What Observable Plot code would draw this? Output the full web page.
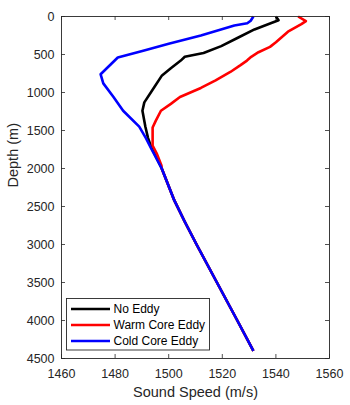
<!DOCTYPE html>
<html>
<head>
<meta charset="utf-8">
<script src="https://cdn.jsdelivr.net/npm/d3@7"></script>
<script src="https://cdn.jsdelivr.net/npm/@observablehq/plot@0.6"></script>
<style>
  html, body { margin: 0; padding: 0; background: #fff; }
  #wrap { position: relative; width: 350px; height: 405px; }
  #legend { position: absolute; left: 0; top: 0; pointer-events: none; }
</style>
</head>
<body>
<div id="wrap"></div>
<script>
// ---- data ----
const speedTicks = [1460, 1480, 1500, 1520, 1540, 1560];
const depthTicks = [0, 500, 1000, 1500, 2000, 2500, 3000, 3500, 4000, 4500];
const seriesNames = ["No Eddy", "Warm Core Eddy", "Cold Core Eddy"];
const seriesColors = ["#000000", "#ff0000", "#0000ff"];

const noEddyDepth = [0, 50, 85, 170, 280, 390, 480, 530, 580, 680, 775, 930, 1130, 1240, 1450, 1600, 1720];
const noEddySpeed = [1540.0, 1541.0, 1538.3, 1532.0, 1525.8, 1519.6, 1513.0, 1506.0, 1504.5, 1500.8, 1497.5, 1494.6, 1490.9, 1490.2, 1491.3, 1492.3, 1493.5];

const warmDepth = [0, 60, 100, 200, 340, 400, 470, 530, 580, 640, 730, 840, 940, 1060, 1150, 1240, 1370, 1460, 1700, 1800, 1960];
const warmSpeed = [1548.3, 1551.2, 1549.5, 1544.5, 1540.0, 1537.8, 1533.5, 1530.8, 1529.2, 1526.8, 1523.0, 1517.5, 1512.0, 1504.2, 1500.8, 1497.1, 1495.2, 1494.0, 1494.0, 1495.5, 1497.3];

const coldDepth = [0, 55, 90, 118, 250, 360, 450, 540, 760, 880, 1060, 1240, 1450, 1600, 1740];
const coldSpeed = [1531.6, 1530.6, 1529.3, 1524.5, 1512.0, 1500.0, 1490.5, 1481.0, 1474.6, 1475.6, 1479.4, 1483.0, 1489.0, 1491.5, 1493.5];

const deepDepth = [2000, 2420, 2700, 3000, 3500, 4000, 4400];
const deepSpeed = [1497.4, 1502.1, 1506.0, 1510.4, 1518.0, 1525.6, 1531.6];

const xLabel = "Sound Speed (m/s)";
const yLabel = "Depth (m)";

// ---- build rows ----
function rows(depths, speeds) {
  const d = depths.concat(deepDepth), s = speeds.concat(deepSpeed);
  return d.map((v, i) => ({depth: v, speed: s[i]}));
}
const seriesRows = [
  rows(noEddyDepth, noEddySpeed),
  rows(warmDepth, warmSpeed),
  rows(coldDepth, coldSpeed)
];

const W = 350, H = 405;
const mL = 61, mR = 21, mT = 16, mB = 47;
const pw = W - mL - mR, ph = H - mT - mB;
const axisColor = "#262626";
const font = "'Liberation Sans', Arial, Helvetica, sans-serif";

const chart = Plot.plot({
  width: W, height: H,
  marginLeft: mL, marginRight: mR, marginTop: mT, marginBottom: mB,
  style: {fontFamily: font, fontSize: "12.5px", color: axisColor, background: "#fff", overflow: "visible"},
  x: {domain: [1460, 1560]},
  y: {domain: [0, 4500], reverse: true},
  marks: [
    Plot.axisX({ticks: speedTicks, tickSize: 0, tickPadding: 11, label: null, tickFormat: d => String(d), fontSize: 12.5}),
    Plot.axisY({ticks: depthTicks, tickSize: 0, tickPadding: 7, label: null, tickFormat: d => String(d), fontSize: 12.5}),
    Plot.ruleX(speedTicks, {insetTop: ph - 4, stroke: axisColor, strokeWidth: 0.8}),
    Plot.ruleX(speedTicks, {insetBottom: ph - 4, stroke: axisColor, strokeWidth: 0.8}),
    Plot.ruleY(depthTicks, {insetRight: pw - 4, stroke: axisColor, strokeWidth: 0.8}),
    Plot.ruleY(depthTicks, {insetLeft: pw - 4, stroke: axisColor, strokeWidth: 0.8}),
    ...seriesRows.map((r, i) => Plot.line(r, {
      x: "speed", y: "depth", stroke: seriesColors[i], strokeWidth: 2.6,
      strokeLinejoin: "round", strokeLinecap: "butt", curve: "linear"
    })),
    Plot.frame({stroke: axisColor, strokeWidth: 0.9}),
    Plot.text([xLabel], {frameAnchor: "bottom", dy: 38, fontSize: 14.5, fill: axisColor, text: d => d}),
    Plot.text([yLabel], {frameAnchor: "left", dx: -48, rotate: -90, fontSize: 14.5, fill: axisColor, text: d => d})
  ]
});
document.getElementById("wrap").appendChild(chart);

// ---- legend (inside axes, lower left) ----
const lg = d3.select("#wrap").append("svg")
  .attr("id", "legend").attr("width", W).attr("height", H)
  .style("font-family", font);
const bx = 66.5, by = 298.5, bw = 143, bh = 51.5;
lg.append("rect").attr("x", bx).attr("y", by).attr("width", bw).attr("height", bh)
  .attr("fill", "#fff").attr("stroke", axisColor).attr("stroke-width", 0.9);
seriesNames.forEach((name, i) => {
  const cy = 309 + i * 16;
  lg.append("line").attr("x1", 71).attr("x2", 110).attr("y1", cy).attr("y2", cy)
    .attr("stroke", seriesColors[i]).attr("stroke-width", 2.6);
  lg.append("text").attr("x", 113.5).attr("y", cy).attr("dy", "0.35em")
    .attr("font-size", 12).attr("fill", "#000").text(name);
});
</script>
</body>
</html>
